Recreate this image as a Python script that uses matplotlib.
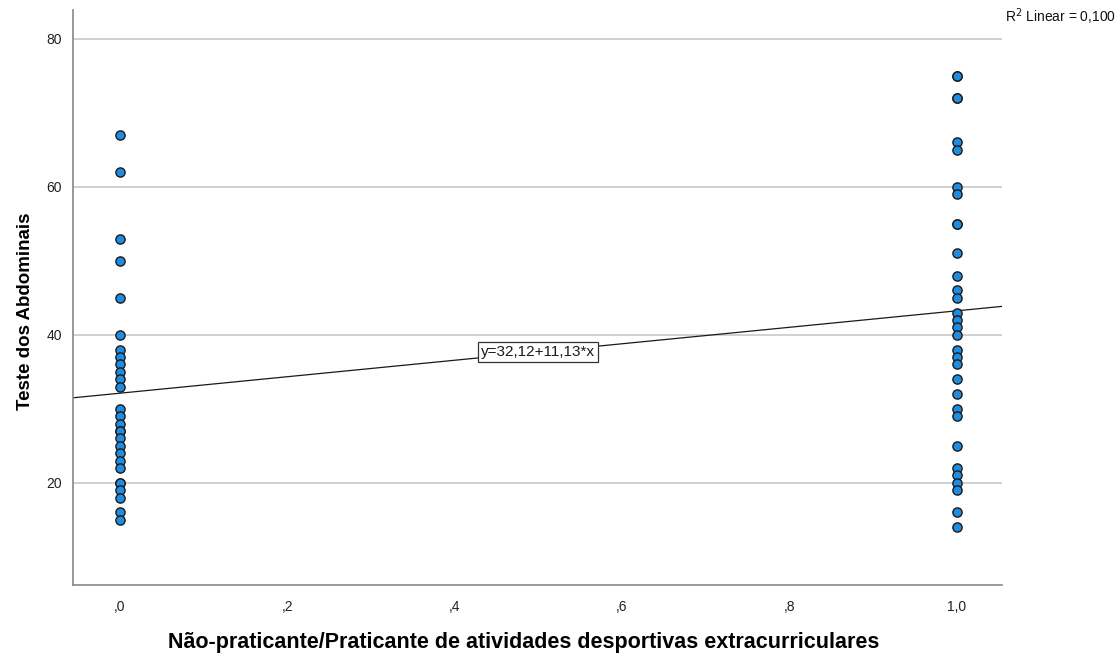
import matplotlib
matplotlib.use("Agg")
import matplotlib.pyplot as plt
import numpy as np

plt.rcParams['font.family'] = ['Liberation Sans', 'DejaVu Sans']

# Abdominal test scores per group (0 = non-practitioner, 1 = practitioner)
group0_scores = [67, 62, 53, 50, 45, 40, 38, 37, 36, 35, 34, 33,
                 30, 29, 28, 27, 27, 26, 25, 24, 23, 22, 20, 20, 19, 18, 16, 15]
group1_scores = [75, 75, 72, 72, 66, 65, 60, 59, 55, 55, 51, 48, 46, 45,
                 43, 42, 41, 40, 38, 37, 36, 34, 32, 30, 29, 25, 22, 21,
                 20, 19, 16, 14]

intercept = 32.12
slope = 11.13
r_squared = 0.100

x_ticks = [0.0, 0.2, 0.4, 0.6, 0.8, 1.0]
x_tick_labels = [',0', ',2', ',4', ',6', ',8', '1,0']
y_ticks = [20, 40, 60, 80]

xs = np.concatenate([np.zeros(len(group0_scores)), np.ones(len(group1_scores))])
ys = np.array(group0_scores + group1_scores, dtype=float)

fig = plt.figure(figsize=(11.2, 6.53), dpi=100)
ax = fig.add_axes([0.0652, 0.1041, 0.8294, 0.8806])

ax.set_xlim(-0.056, 1.054)
ax.set_ylim(6.2, 83.9)

for yt in y_ticks:
    ax.axhline(yt, color='#c8c8c8', lw=1.2, zorder=1)

fit_x = np.array(ax.get_xlim())
ax.plot(fit_x, intercept + slope * fit_x, color='#1a1a1a', lw=0.9, zorder=2)

ax.scatter(xs, ys, s=44, facecolor='#1f8ce0', edgecolor='#1a1a1a',
           linewidths=1.0, zorder=3)

eq_x = 0.5
ax.text(eq_x, intercept + slope * eq_x,
        'y=' + f'{intercept:.2f}'.replace('.', ',') + '+' +
        f'{slope:.2f}'.replace('.', ',') + '*x',
        ha='center', va='center', fontsize=11, color='#1a1a1a', zorder=4,
        bbox=dict(boxstyle='square,pad=0.2', facecolor='white',
                  edgecolor='#333333', linewidth=0.9))

ax.set_xticks(x_ticks)
ax.set_xticklabels(x_tick_labels)
ax.set_yticks(y_ticks)
ax.tick_params(axis='both', length=0, labelsize=10, colors='#222222', pad=8)
ax.tick_params(axis='x', pad=11)

for side in ['top', 'right']:
    ax.spines[side].set_visible(False)
for side in ['left', 'bottom']:
    ax.spines[side].set_color('#888888')
    ax.spines[side].set_linewidth(1.2)

ax.set_xlabel('Não-praticante/Praticante de atividades desportivas extracurriculares',
              fontsize=15.5, fontweight='bold')
ax.set_ylabel('Teste dos Abdominais', fontsize=13.5, fontweight='bold')
ax.xaxis.set_label_coords(0.4855, -0.0817)
ax.yaxis.set_label_coords(-0.0425, 0.4765)

fig.text(0.897, 0.974, r'R$^2$ Linear = ' + f'{r_squared:.3f}'.replace('.', ','),
         fontsize=10, ha='left', va='center', color='#111111')

fig.savefig('out.png', dpi=100, facecolor='white')
